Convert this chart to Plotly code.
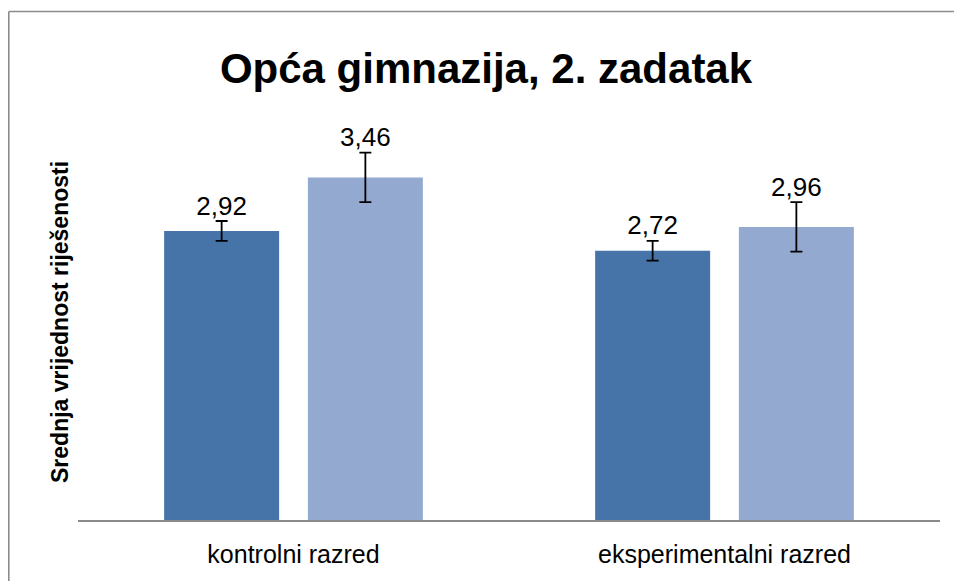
import plotly.graph_objects as go

categories = ["kontrolni razred", "eksperimentalni razred"]
series1_values = [2.92, 2.72]
series1_errors = [0.10, 0.10]
series2_values = [3.46, 2.96]
series2_errors = [0.25, 0.25]

title_text = "Opća gimnazija, 2. zadatak"
y_title = "Srednja vrijednost riješenosti"

FONT = "Liberation Sans"
c1 = "#4674A8"
c2 = "#94A9D0"

W, H = 954, 581

fig = go.Figure()
for vals, errs, col, name in [(series1_values, series1_errors, c1, "Serija 1"),
                              (series2_values, series2_errors, c2, "Serija 2")]:
    fig.add_trace(go.Bar(
        x=categories, y=vals, name=name, marker=dict(color=col, line=dict(width=0)),
        error_y=dict(type="data", array=errs, visible=True, color="black",
                     thickness=1.8, width=6),
        showlegend=False, hoverinfo="y",
    ))
for vals, errs, name in [(series1_values, series1_errors, "Serija 1"),
                         (series2_values, series2_errors, "Serija 2")]:
    fig.add_trace(go.Scatter(
        x=categories, y=[v + e for v, e in zip(vals, errs)],
        text=[f"{v:.2f}".replace(".", ",") for v in vals],
        mode="text", textposition="top center",
        textfont=dict(family=FONT, size=26, color="black"),
        showlegend=False, hoverinfo="skip", name=name,
    ))

# plot area in window pixels: x 78..940, y 100..520
L, R, T, B = 78, W - 940, 100, H - 520
pw, ph = W - L - R, H - T - B
px_per_unit = 99.0

bx0 = (8.8 - L) / pw
bx1 = (W + 5 - L) / pw
by0 = (-B - 5) / ph
by1 = (H - B - 11.5) / ph
frame = dict(color="#8c8c8c", width=1.6)

fig.update_layout(
    width=W, height=H,
    margin=dict(l=L, r=R, t=T, b=B, autoexpand=False),
    paper_bgcolor="white", plot_bgcolor="white",
    barmode="group", bargap=0.333, bargroupgap=0.2,
    scattermode="group", scattergap=0.333,
    separators=",.",
    title=dict(text=f"<b>{title_text}</b>", x=486 / W, xanchor="center",
               y=1 - 68 / H, yanchor="middle",
               font=dict(family=FONT, size=42, color="black")),
    xaxis=dict(showline=True, linecolor="#8a8a8a", linewidth=1.5,
               showgrid=False, ticks="", ticklabelstandoff=11,
               tickfont=dict(family=FONT, size=25, color="black")),
    yaxis=dict(range=[0, ph / px_per_unit], showgrid=False, showticklabels=False,
               zeroline=False, showline=False, ticks=""),
    annotations=[dict(text=f"<b>{y_title}</b>", textangle=-90,
                      xref="paper", yref="paper",
                      x=(60 - L) / pw, y=(H - B - 322) / ph,
                      xanchor="center", yanchor="middle", showarrow=False,
                      font=dict(family=FONT, size=23, color="black"))],
    shapes=[
        dict(type="line", xref="paper", yref="paper",
             x0=bx0, x1=bx0, y0=by0, y1=by1, line=frame, layer="below"),
        dict(type="line", xref="paper", yref="paper",
             x0=bx0, x1=bx1, y0=by1, y1=by1, line=frame, layer="below"),
    ],
)

fig.write_html(
    "out.html",
    config={"displayModeBar": False},
    post_script="document.body.style.margin='0';document.body.style.overflow='hidden';",
)
